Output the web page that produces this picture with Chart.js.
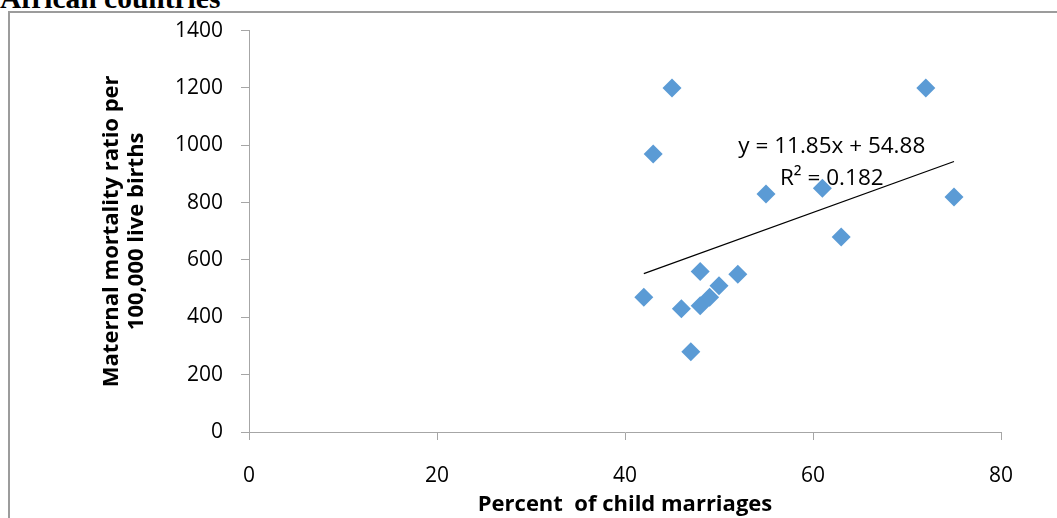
<!DOCTYPE html>
<html>
<head>
<meta charset="utf-8">
<script src="https://cdn.jsdelivr.net/npm/chart.js@4"></script>
<style>
  html, body { margin: 0; padding: 0; background: #fff; overflow: hidden; }
  #frame { position: absolute; left: 8px; top: 11px; width: 1100px; height: 600px; border: 2px solid #9c9c9c; }
  #heading { position: absolute; left: 0; top: -16px; font: bold 29.5px "Liberation Serif", serif; line-height: 29px; white-space: nowrap; }
  #wrap { position: absolute; left: 0; top: 0; width: 1057px; height: 518px; }
</style>
</head>
<body>
<div id="frame"></div>
<div id="heading">African countries</div>
<div id="wrap"><canvas id="myChart" width="1057" height="518"></canvas></div>
<script>
// percent of child marriages vs maternal mortality ratio
const childMarriage = [42, 43, 45, 46, 47, 48, 48, 49, 50, 52, 55, 61, 63, 72, 75];
const mortality = [470, 970, 1200, 430, 280, 560, 440, 470, 510, 550, 830, 850, 680, 1200, 820];

const trendSlope = 11.85;
const trendIntercept = 54.88;
const trendLabel = ['y = 11.85x + 54.88', 'R\u00b2 = 0.182'];

const xTicks = [0, 20, 40, 60, 80];
const yTicks = [0, 200, 400, 600, 800, 1000, 1200, 1400];

const minX = Math.min(...childMarriage);
const maxX = Math.max(...childMarriage);
const trend = [minX, maxX].map(x => ({ x: x, y: trendSlope * x + trendIntercept }));

const points = childMarriage.map((x, i) => ({ x: x, y: mortality[i] }));

const axisGray = '#a6a6a6';
const tickFont = { family: 'Open Sans', size: 21 };

const equationPlugin = {
    id: 'equation',
    afterDatasetsDraw(chart) {
        const ctx = chart.ctx;
        const xs = chart.scales.x;
        const ys = chart.scales.y;
        ctx.save();
        ctx.fillStyle = '#000';
        ctx.font = '22.5px "Open Sans"';
        ctx.textAlign = 'center';
        ctx.textBaseline = 'middle';
        // label sits above the right part of the trend line
        ctx.fillText(trendLabel[0], xs.getPixelForValue(62), ys.getPixelForValue(994));
        ctx.fillText(trendLabel[1], xs.getPixelForValue(62), ys.getPixelForValue(883));
        ctx.restore();
    }
};

new Chart(document.getElementById('myChart').getContext('2d'), {
    type: 'scatter',
    data: {
        datasets: [
            {
                label: 'Countries',
                data: points,
                pointStyle: 'rectRot',
                pointRadius: 9.5,
                pointHoverRadius: 9.5,
                backgroundColor: '#5b9bd5',
                borderColor: '#5b9bd5',
                borderWidth: 0
            },
            {
                label: 'Linear trend',
                type: 'line',
                data: trend,
                borderColor: '#000',
                borderWidth: 1.2,
                pointRadius: 0,
                fill: false
            }
        ]
    },
    options: {
        responsive: false,
        animation: false,
        layout: { padding: { top: 27, right: 56, left: 0, bottom: 0 } },
        plugins: {
            legend: { display: false },
            tooltip: { enabled: false }
        },
        scales: {
            x: {
                type: 'linear',
                min: 0,
                max: 80,
                afterBuildTicks: scale => { scale.ticks = xTicks.map(v => ({ value: v })); },
                grid: { drawOnChartArea: false, drawTicks: true, tickLength: 8, color: axisGray },
                border: { color: axisGray, width: 1 },
                ticks: { color: '#000', font: tickFont, padding: 23, callback: v => String(v) },
                title: {
                    display: true,
                    text: 'Percent  of child marriages',
                    color: '#000',
                    font: { family: 'Open Sans', size: 22, weight: 'bold' },
                    padding: { top: 0, bottom: 0 }
                },
                afterFit: scale => { scale.height = 86; }
            },
            y: {
                type: 'linear',
                min: 0,
                max: 1400,
                afterBuildTicks: scale => { scale.ticks = yTicks.map(v => ({ value: v })); },
                grid: { drawOnChartArea: false, drawTicks: true, tickLength: 8, color: axisGray },
                border: { color: axisGray, width: 1 },
                ticks: { color: '#000', font: tickFont, padding: 18, callback: v => String(v) },
                title: {
                    display: true,
                    text: ['Maternal mortality ratio per', '100,000 live births'],
                    color: '#000',
                    font: { family: 'Open Sans', size: 22, weight: 'bold', lineHeight: 1.14 },
                    padding: { top: 99.5, bottom: 0 }
                },
                afterFit: scale => { scale.width = 249; }
            }
        }
    },
    plugins: [equationPlugin]
});
</script>
</body>
</html>
